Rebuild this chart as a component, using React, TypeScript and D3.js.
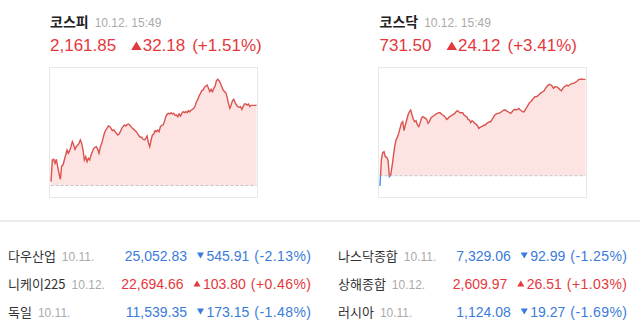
import React from 'react';
import * as d3 from 'd3';

const RED = '#e5383d';
const BLUE = '#3b7bdc';
const LINE_RED = '#d9534f';
const LINE_BLUE = '#4a8fe0';
const FILL_RED = '#fde4e3';
const FILL_BLUE = '#e3eefc';
const NUM_FONT = '"Liberation Sans", Arial, sans-serif';
const KR_FONT = '"Noto Sans CJK KR", "Noto Sans", sans-serif';

// ---- Domestic indices ----
const indexNames = ['코스피', '코스닥'];
const indexStamp = ['10.12. 15:49', '10.12. 15:49'];
const indexValues = ['2,161.85', '731.50'];
const indexChanges = ['32.18', '24.12'];
const indexPcts = ['(+1.51%)', '(+3.41%)'];
const indexPrev = [2129.67, 707.38];
const kospiDomain = [2124.65, 2177.22];
const kosdaqDomain = [701.8, 734.6];

const kospiValues = [
  2131.21, 2139.9, 2140.17, 2138.57, 2140.17, 2137.23, 2134.55, 2132.14, 2137.5, 2137.9,
  2139.9, 2141.91, 2143.92, 2142.58, 2143.65, 2145.25, 2147.26, 2145.92, 2144.18, 2145.25,
  2145.92, 2146.59, 2147.93, 2146.59, 2143.92, 2139.9, 2141.24, 2139.23, 2140.57, 2139.9,
  2141.91, 2143.25, 2144.58, 2144.99, 2145.25, 2144.18, 2142.58, 2145.25, 2146.59, 2148.6,
  2150.6, 2151.94, 2152.61, 2153.55, 2153.28, 2152.61, 2151.67, 2151.94, 2151.27, 2150.6,
  2149.93, 2150.34, 2151.27, 2152.61, 2153.28, 2153.95, 2153.55, 2154.08, 2154.35, 2153.95,
  2153.28, 2152.61, 2152.21, 2151.67, 2151.27, 2150.34, 2149.53, 2149.0, 2149.0, 2148.2,
  2147.93, 2148.6, 2149.53, 2146.86, 2145.25, 2147.93, 2149.93, 2150.34, 2151.67, 2151.27,
  2151.94, 2151.27, 2153.28, 2153.81, 2153.95, 2155.29, 2157.29, 2158.23, 2158.63, 2158.36,
  2158.9, 2158.36, 2158.63, 2157.83, 2157.96, 2157.29, 2158.36, 2157.56, 2158.63, 2159.3,
  2158.9, 2159.3, 2158.9, 2159.7, 2159.16, 2159.97, 2160.23, 2160.64, 2161.57, 2163.31,
  2164.25, 2165.58, 2166.65, 2167.73, 2167.99, 2169.06, 2169.6, 2170.0, 2168.66, 2167.32,
  2168.26, 2167.32, 2168.66, 2169.6, 2171.74, 2172.27, 2171.74, 2170.67, 2169.33, 2167.99,
  2167.32, 2166.92, 2165.05, 2162.64, 2160.64, 2161.97, 2163.71, 2164.25, 2162.91, 2161.97,
  2161.3, 2161.04, 2161.3, 2160.23, 2161.3, 2162.37, 2162.37, 2161.97, 2162.37, 2161.3,
  2161.84, 2161.84, 2161.84, 2161.84, 2161.85,
];

const kosdaqValues = [
  704.79, 711.3, 713.14, 713.39, 712.14, 711.97, 711.3, 707.13, 707.55, 709.63,
  712.14, 714.64, 716.31, 716.98, 717.98, 719.23, 720.48, 720.9, 718.65, 720.07,
  721.32, 722.57, 723.4, 723.82, 722.57, 721.48, 720.9, 721.15, 720.07, 719.65,
  720.48, 721.73, 722.15, 721.99, 721.73, 721.48, 720.48, 720.9, 721.73, 722.15,
  722.32, 722.57, 722.82, 722.99, 723.15, 723.15, 722.82, 722.57, 722.32, 721.99,
  721.48, 721.73, 722.15, 722.32, 722.57, 722.74, 722.99, 723.4, 723.65, 723.4,
  723.15, 723.15, 723.15, 722.57, 722.32, 722.15, 721.48, 721.32, 720.65, 721.15,
  720.9, 720.48, 720.32, 719.9, 719.23, 719.48, 719.65, 719.82, 720.07, 720.07,
  720.48, 720.65, 720.9, 720.9, 721.48, 721.99, 722.57, 722.82, 722.99, 722.99,
  723.15, 723.4, 723.65, 723.82, 723.82, 723.57, 723.4, 723.15, 722.99, 723.4,
  723.82, 723.99, 723.82, 723.99, 724.24, 723.82, 723.65, 723.4, 723.4, 723.99,
  724.49, 725.07, 725.66, 725.91, 726.33, 726.74, 727.16, 727.16, 727.33, 727.58,
  727.99, 728.16, 728.41, 728.66, 729.25, 729.66, 730.08, 730.25, 730.08, 729.83,
  729.25, 729.66, 729.66, 729.5, 729.25, 728.83, 728.66, 729.25, 729.66, 729.83,
  730.08, 729.83, 730.08, 730.33, 730.5, 730.5, 730.67, 730.92, 731.17, 731.5,
  731.5, 731.58, 731.5, 731.5, 731.5,
];

// ---- World indices ----
const worldNames = ['다우산업', '니케이225', '독일', '나스닥종합', '상해종합', '러시아'];
const worldDates = ['10.11.', '10.12.', '10.11.', '10.11.', '10.12.', '10.11.'];
const worldValues = ['25,052.83', '22,694.66', '11,539.35', '7,329.06', '2,609.97', '1,124.08'];
const worldChanges = ['545.91', '103.80', '173.15', '92.99', '26.51', '19.27'];
const worldPcts = ['(-2.13%)', '(+0.46%)', '(-1.48%)', '(-1.25%)', '(+1.03%)', '(-1.69%)'];
const worldUp = [false, true, false, false, true, false];

let _ctx: CanvasRenderingContext2D | null = null;
function tw(text: string, font: string): number {
  if (!_ctx) _ctx = document.createElement('canvas').getContext('2d');
  if (!_ctx) return text.length * 8;
  _ctx.font = font;
  return _ctx.measureText(text).width;
}

function Tri({ x, yBase, w, h, up, color }: any) {
  const p = up
    ? `M${x},${yBase} L${x + w},${yBase} L${x + w / 2},${yBase - h} Z`
    : `M${x},${yBase - h} L${x + w},${yBase - h} L${x + w / 2},${yBase} Z`;
  return <path d={p} fill={color} />;
}

function MiniChart({ id, values, prev, domain, x0 }: any) {
  const top = 67.5;
  const bottom = 197.5;
  const w = 208;
  const n = values.length;
  const x = d3.scaleLinear().domain([0, n - 1]).range([x0 + 1.5, x0 + 207]);
  const y = d3.scaleLinear().domain(domain).range([198, 67]);
  const base = y(prev);
  const area = d3
    .area<number>()
    .x((_, i) => x(i))
    .y0(base)
    .y1((d) => y(d));
  const line = d3
    .line<number>()
    .x((_, i) => x(i))
    .y((d) => y(d));
  return (
    <g>
      <defs>
        <clipPath id={`${id}-up`}>
          <rect x={x0} y={top} width={w} height={base - top} />
        </clipPath>
        <clipPath id={`${id}-dn`}>
          <rect x={x0} y={base} width={w} height={bottom - base + 10} />
        </clipPath>
      </defs>
      <rect x={x0} y={top} width={w} height={bottom - top} fill="#fff" stroke="#e8e8e8" />
      <path d={area(values) || ''} fill={FILL_RED} clipPath={`url(#${id}-up)`} />
      <path d={area(values) || ''} fill={FILL_BLUE} clipPath={`url(#${id}-dn)`} />
      <line x1={x0 + 1} x2={x0 + w - 1} y1={base} y2={base} stroke="#c4c4c4" strokeDasharray="3,2" />
      <path d={line(values) || ''} fill="none" stroke={LINE_RED} strokeWidth={1.4} clipPath={`url(#${id}-up)`} />
      <path d={line(values) || ''} fill="none" stroke={LINE_BLUE} strokeWidth={1.4} clipPath={`url(#${id}-dn)`} />
    </g>
  );
}

function Header({ i, x0 }: any) {
  const fs = 17;
  const bigFont = `${fs}px ${NUM_FONT}`;
  const vx = x0;
  const vw = tw(indexValues[i], bigFont);
  const triX = vx + vw + 15;
  const cx = triX + 11.5;
  const cw = tw(indexChanges[i], bigFont);
  const px = cx + cw + 7;
  return (
    <g>
      <text x={x0} y={27} fontFamily={KR_FONT} fontSize={14} fontWeight="bold" fill="#222">
        {indexNames[i]}
        <tspan dx={6} fontFamily={NUM_FONT} fontSize={12} fontWeight="normal" fill="#aaa">
          {indexStamp[i]}
        </tspan>
      </text>
      <text x={vx} y={51} fontFamily={NUM_FONT} fontSize={fs} fill={RED}>
        {indexValues[i]}
      </text>
      <Tri x={triX} yBase={50} w={10.5} h={8.5} up={true} color={RED} />
      <text x={cx} y={51} fontFamily={NUM_FONT} fontSize={fs} fill={RED}>
        {indexChanges[i]}
      </text>
      <text x={px} y={51} fontFamily={NUM_FONT} fontSize={fs} fill={RED}>
        {indexPcts[i]}
      </text>
    </g>
  );
}

function WorldRow({ i }: any) {
  const col = i < 3 ? 0 : 1;
  const row = i % 3;
  const nameX = col === 0 ? 8 : 338;
  const right = col === 0 ? 311 : 627;
  const yb = 261 + row * 28;
  const font = `14px ${NUM_FONT}`;
  const color = worldUp[i] ? RED : BLUE;
  const pw = tw(worldPcts[i], font) + 3;
  const pX = right - pw;
  const cw = tw(worldChanges[i], font);
  const cX = pX - 5 - cw;
  const triR = cX - 2.5;
  const triL = triR - 7;
  const vw = tw(worldValues[i], font);
  const vX = triL - 10 - vw;
  return (
    <g>
      <text x={nameX} y={yb} fontFamily={KR_FONT} fontSize={13} fill="#333">
        {worldNames[i]}
        <tspan dx={6} fontFamily={NUM_FONT} fontSize={12} fill="#aaa">
          {worldDates[i]}
        </tspan>
      </text>
      <text x={vX} y={yb} fontFamily={NUM_FONT} fontSize={14} fill={color}>
        {worldValues[i]}
      </text>
      <Tri x={triL} yBase={yb - 2.5} w={7} h={6} up={worldUp[i]} color={color} />
      <text x={cX} y={yb} fontFamily={NUM_FONT} fontSize={14} fill={color}>
        {worldChanges[i]}
      </text>
      <text x={pX} y={yb} fontFamily={NUM_FONT} fontSize={14} fill={color} textLength={pw} lengthAdjust="spacing">
        {worldPcts[i]}
      </text>
    </g>
  );
}

export default function App() {
  return (
    <svg
      width={640}
      height={334}
      style={{ position: 'absolute', left: 0, top: 0, background: '#fff' }}
    >
      <rect x={0} y={0} width={640} height={334} fill="#fff" />
      <Header i={0} x0={50} />
      <Header i={1} x0={379.5} />
      <MiniChart id="kospi" values={kospiValues} prev={indexPrev[0]} domain={kospiDomain} x0={49.5} />
      <MiniChart id="kosdaq" values={kosdaqValues} prev={indexPrev[1]} domain={kosdaqDomain} x0={378.5} />
      <rect x={0} y={220} width={640} height={2} fill="#ececec" />
      {worldNames.map((_, i) => (
        <WorldRow key={i} i={i} />
      ))}
    </svg>
  );
}
